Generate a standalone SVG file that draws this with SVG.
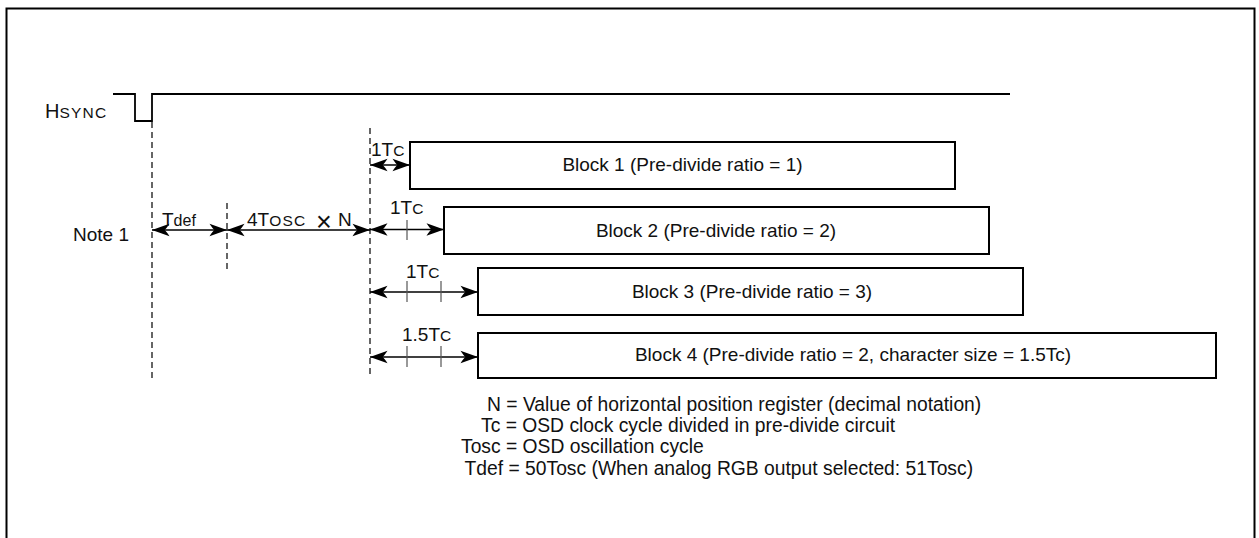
<svg xmlns="http://www.w3.org/2000/svg" width="1259" height="538" viewBox="0 0 1259 538">
<style>
  text { font-family: "Liberation Sans", Arial, sans-serif; fill: #111; font-size: 19px; }
  .blk { fill: #fff; stroke: #000; stroke-width: 2; }
  .dash { stroke: #000; stroke-width: 1.2; stroke-dasharray: 6 4; fill: none; }
  .arr { stroke: #000; stroke-width: 1.3; fill: none; marker-start: url(#ah); marker-end: url(#ah); }
  .tick { stroke: #555; stroke-width: 1.2; }
  .sc { font-size: 15.5px; letter-spacing: 1.2px; }
  .sm { font-size: 16px; }
  .note { font-size: 19.3px; }
</style>
<defs>
  <marker id="ah" viewBox="-19 -7 21 14" refX="0" refY="0" markerWidth="21" markerHeight="14" markerUnits="userSpaceOnUse" orient="auto-start-reverse">
    <path d="M0,0 L-17.5,-6.2 Q-14,-1 -12.5,0 Q-14,1 -17.5,6.2 Z" fill="#000"/>
  </marker>
</defs>
<rect x="0" y="0" width="1259" height="538" fill="#fff"/>
<rect id="frame" x="6.5" y="8.5" width="1248" height="560" fill="none" stroke="#000" stroke-width="2"/>

<g id="hsync">
  <path d="M113,94 H135 V121 H152 V94 H1010" fill="none" stroke="#000" stroke-width="1.8"/>
  <text x="45" y="118"><tspan font-size="20px">H</tspan><tspan class="sc">SYNC</tspan></text>
</g>

<g id="guides">
  <line class="dash" x1="152" y1="122" x2="152" y2="378"/>
  <line class="dash" x1="227" y1="203" x2="227" y2="272"/>
  <line class="dash" x1="370" y1="128" x2="370" y2="378"/>
</g>

<g id="block1">
  <rect class="blk" x="410" y="142" width="545" height="47"/>
  <text x="682.5" y="171" text-anchor="middle">Block 1 (Pre-divide ratio = 1)</text>
</g>
<g id="block2">
  <rect class="blk" x="444" y="207" width="545" height="47"/>
  <text x="716" y="237" text-anchor="middle">Block 2 (Pre-divide ratio = 2)</text>
</g>
<g id="block3">
  <rect class="blk" x="478" y="268" width="545" height="47"/>
  <text x="752" y="297.5" text-anchor="middle">Block 3 (Pre-divide ratio = 3)</text>
</g>
<g id="block4">
  <rect class="blk" x="478" y="333" width="738" height="45"/>
  <text x="853" y="361" text-anchor="middle">Block 4 (Pre-divide ratio = 2, character size = 1.5Tc)</text>
</g>

<g id="connectors">
  <line class="arr" x1="152" y1="230" x2="227" y2="230"/>
  <line class="arr" x1="227" y1="230" x2="370" y2="230"/>
  <line class="arr" x1="370" y1="165" x2="410" y2="165"/>
  <line class="arr" x1="370" y1="229.5" x2="444" y2="229.5"/>
  <line class="arr" x1="370" y1="292" x2="478" y2="292"/>
  <line class="arr" x1="370" y1="357" x2="478" y2="357"/>
  <line class="tick" x1="407" y1="220" x2="407" y2="240"/>
  <line class="tick" x1="407" y1="281" x2="407" y2="302"/>
  <line class="tick" x1="441" y1="281" x2="441" y2="302"/>
  <line class="tick" x1="407" y1="346" x2="407" y2="367"/>
  <line class="tick" x1="441" y1="346" x2="441" y2="367"/>
</g>

<g id="labels">
  <text x="73" y="241" font-size="20px">Note 1</text>
  <text x="162" y="225.5"><tspan>T</tspan><tspan class="sm">def</tspan></text>
  <text y="226"><tspan x="247">4T</tspan><tspan class="sc">OSC</tspan><tspan x="316" y="230.5" font-size="27px">×</tspan><tspan x="338" y="226">N</tspan></text>
  <text x="371" y="156"><tspan>1T</tspan><tspan class="sc">C</tspan></text>
  <text x="390" y="214"><tspan>1T</tspan><tspan class="sc">C</tspan></text>
  <text x="406" y="278"><tspan>1T</tspan><tspan class="sc">C</tspan></text>
  <text x="402" y="341"><tspan>1.5T</tspan><tspan class="sc">C</tspan></text>
</g>

<g id="notes">
  <text class="note" x="487" y="410.5">N = Value of horizontal position register (decimal notation)</text>
  <text class="note" x="481" y="432">Tc = OSD clock cycle divided in pre-divide circuit</text>
  <text class="note" x="461" y="453.3">Tosc = OSD oscillation cycle</text>
  <text class="note" x="464.5" y="474.6">Tdef = 50Tosc (When analog RGB output selected: 51Tosc)</text>
</g>
</svg>
